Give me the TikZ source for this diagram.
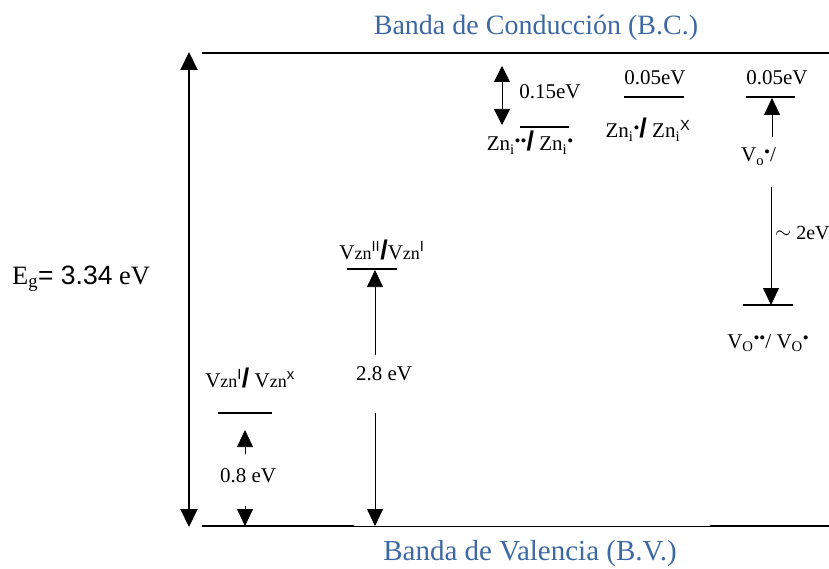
\documentclass[tikz,border=0pt]{standalone}
\usepackage{fontspec}
\setmainfont{Liberation Serif}
\setsansfont{Liberation Sans}
\usetikzlibrary{arrows.meta}
\definecolor{bandblue}{HTML}{3C68A3}
\newcommand\sdot[1]{\raisebox{0.2em}{\fontsize{17}{17}\selectfont #1}}
\newcommand\bsl{{\sffamily\bfseries\fontsize{27}{27}\selectfont /}}
\newcommand\sfsup[1]{\textsuperscript{\sffamily #1}}
\begin{document}
\begin{tikzpicture}[x=1pt,y=-1pt,
  lbl/.style={inner sep=0pt, anchor=base, font=\fontsize{21}{24}\selectfont},
  bandtitle/.style={inner sep=0pt, anchor=base, text=bandblue, font=\fontsize{28}{32}\selectfont},
  level/.style={line width=2.2pt},
  band/.style={line width=2.2pt},
  thinarr/.style={line width=0.75pt, -{Triangle[width=16pt,length=17pt]}},
  dblarr/.style={line width=0.75pt, {Triangle[width=16pt,length=16pt]}-{Triangle[width=16pt,length=16pt]}},
  gaparr/.style={line width=2pt, {Triangle[width=17pt,length=18pt]}-{Triangle[width=17pt,length=18pt]}}
]
\useasboundingbox (0,0) rectangle (829,569);

% titles
\node[bandtitle] (bc) at (536,35) {Banda de Conducción (B.C.)};
\node[bandtitle, font=\fontsize{29}{32}\selectfont] (bv) at (530,560) {Banda de Valencia (B.V.)};

% bands
\coordinate (cbL) at (202,53); \coordinate (cbR) at (829,53);
\draw[band] (cbL) -- (cbR);
\coordinate (vb1) at (202,526); \coordinate (vb2) at (354,526);
\coordinate (vb3) at (710,526); \coordinate (vb4) at (829,526);
\draw[line width=2.5pt] (vb1) -- (vb2);
\draw[line width=1pt] (vb2) -- (vb3);
\draw[line width=2.5pt] (vb3) -- (vb4);

% band gap
\coordinate (egT) at (189,52); \coordinate (egB) at (189,527);
\draw[gaparr] (egT) -- (egB);
\node[inner sep=0pt, anchor=base west, font=\fontsize{26.5}{28}\selectfont] (eg) at (12,284)
  {E\textsubscript{g}{\sffamily= 3.34} eV};

% Zn_i'' / Zn_i'
\coordinate (z1T) at (502,66); \coordinate (z1B) at (502,125);
\draw[dblarr] (z1T) -- (z1B);
\node[lbl] (e015) at (550,99) {0.15eV};
\coordinate (z1L) at (520,127); \coordinate (z1R) at (569,127);
\draw[line width=1.6pt] (z1L) -- (z1R);
\node[lbl] (zn1) at (530,151) {Zn\textsubscript{i}\sdot{••}\bsl\ Zn\textsubscript{i}\sdot{•}};

% Zn_i' / Zn_i^x
\node[lbl] (e005a) at (655,85) {0.05eV};
\coordinate (z2L) at (624,97); \coordinate (z2R) at (684,97);
\draw[line width=1.6pt] (z2L) -- (z2R);
\node[lbl] (zn2) at (648,138) {Zn\textsubscript{i}\sdot{•}\bsl\ Zn\textsubscript{i}\sfsup{X}};

% V_o
\node[lbl] (e005b) at (777,85) {0.05eV};
\coordinate (v1L) at (746,97); \coordinate (v1R) at (795,97);
\draw[level] (v1L) -- (v1R);
\coordinate (v1a) at (772,137); \coordinate (v1b) at (772,98);
\draw[thinarr] (v1a) -- (v1b);
\node[lbl, anchor=base west] (vo1) at (741,162) {V\textsubscript{o}\sdot{•}/};

% ~2eV
\coordinate (v2a) at (771,187); \coordinate (v2b) at (771,305);
\draw[thinarr] (v2a) -- (v2b);
\node[lbl, anchor=base west, font=\fontsize{20}{22}\selectfont] (e2) at (775,240) {\raisebox{1pt}{$\sim$} 2eV};
\coordinate (v2L) at (743,305); \coordinate (v2R) at (793,305);
\draw[level] (v2L) -- (v2R);
\node[lbl] (vo2) at (768,348) {V\textsubscript{O}\sdot{••}/ V\textsubscript{O}\sdot{•}};

% V_zn'' / V_zn'
\node[lbl] (vzn2) at (382,259) {V{\fontsize{18}{20}\selectfont zn}\sfsup{II}\bsl V{\fontsize{18}{20}\selectfont zn}\sfsup{I}};
\coordinate (w1L) at (347,269); \coordinate (w1R) at (397,269);
\draw[level] (w1L) -- (w1R);
\coordinate (w1a) at (375,355); \coordinate (w1b) at (375,270);
\draw[thinarr] (w1a) -- (w1b);
\node[lbl] (e28) at (384,380) {2.8 eV};
\coordinate (w1c) at (375,413); \coordinate (w1d) at (375,526);
\draw[thinarr] (w1c) -- (w1d);

% V_zn' / V_zn^x
\node[lbl] (vzn1) at (250,387) {V{\fontsize{18}{20}\selectfont zn}\sfsup{I}\bsl\ V{\fontsize{18}{20}\selectfont zn}\sfsup{x}};
\coordinate (w2L) at (218,413); \coordinate (w2R) at (272,413);
\draw[level] (w2L) -- (w2R);
\coordinate (w2a) at (245,454); \coordinate (w2b) at (245,430);
\draw[thinarr] (w2a) -- (w2b);
\node[lbl] (e08) at (248,482) {0.8 eV};
\coordinate (w2c) at (245,506); \coordinate (w2d) at (245,526);
\draw[thinarr] (w2c) -- (w2d);
\end{tikzpicture}
\end{document}
